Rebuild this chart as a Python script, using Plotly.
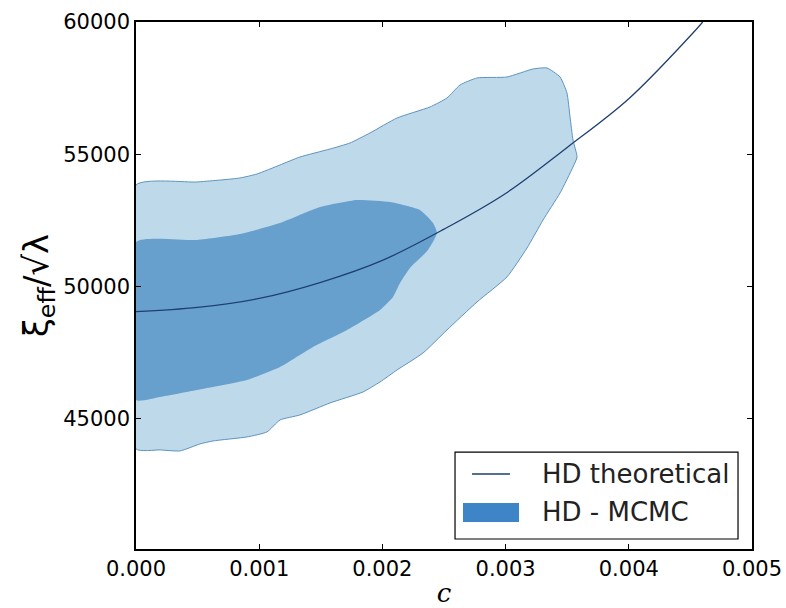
import plotly.graph_objects as go

# Theoretical HD curve
theory_c = [0.0, 0.0005, 0.001, 0.0015, 0.002, 0.0025, 0.003, 0.0035, 0.004, 0.0045, 0.0046]
theory_xi = [49050, 49210, 49550, 50160, 50990, 52170, 53520, 55260, 57100, 59480, 60000]

# Outer (2-sigma) MCMC contour
outer_c = [0.0, 0.000495, 0.000844, 0.000982, 0.001169, 0.001331, 0.001575, 0.001737, 0.001899,
           0.002119, 0.002386, 0.002524, 0.002630, 0.002768, 0.003011, 0.003222, 0.003336, 0.003442,
           0.003498, 0.003523, 0.003547, 0.003580, 0.003547, 0.003442, 0.003304, 0.003174, 0.003011,
           0.002768, 0.002524, 0.002330, 0.002119, 0.001981, 0.001843, 0.001575, 0.001331, 0.001169,
           0.001063, 0.000901, 0.000625, 0.000519, 0.000357, 0.000195, 0.0, 0.0]
outer_xi = [53840, 53953, 54104, 54255, 54596, 54898, 55200, 55427, 55805,
            56372, 56788, 57128, 57619, 57884, 57921, 58224, 58262, 57921,
            57317, 56410, 55540, 54898, 54520, 53537, 52517, 51459, 50363,
            49418, 48360, 47491, 46848, 46395, 46017, 45601, 45147, 44958,
            44505, 44316, 44165, 44051, 43787, 43825, 43863, 53840]

# Inner (1-sigma) MCMC contour
inner_c = [0.0, 0.000495, 0.000844, 0.001169, 0.001494, 0.001794, 0.002062, 0.002305, 0.002411,
           0.002443, 0.002370, 0.002224, 0.002143, 0.002086, 0.001981, 0.001713, 0.001437, 0.001169,
           0.000901, 0.000495, 0.000195, 0.0, 0.0]
inner_xi = [51686, 51761, 51988, 52404, 53008, 53273, 53197, 52895, 52404,
            52026, 51383, 50703, 50136, 49607, 49116, 48360, 47717, 46961,
            46470, 46092, 45828, 45714, 51686]

x_ticks = [0.0, 0.001, 0.002, 0.003, 0.004, 0.005]
y_ticks = [45000, 50000, 55000, 60000]
legend_labels = ["HD theoretical", "HD - MCMC"]

LINE_COL = "#1d3f70"
PATCH_COL = "#3d85c6"

fig = go.Figure()
fig.add_trace(go.Scatter(x=outer_c, y=outer_xi, mode="lines", fill="toself",
                         fillcolor="#bedaea", line=dict(color="#5f93c0", width=1, shape="spline", smoothing=0.5),
                         showlegend=False, hoverinfo="skip", name="HD - MCMC (2σ)"))
fig.add_trace(go.Scatter(x=inner_c, y=inner_xi, mode="lines", fill="toself",
                         fillcolor="#68a0cd", line=dict(color="rgba(0,0,0,0)", width=0, shape="spline", smoothing=0.5),
                         showlegend=False, hoverinfo="skip", name="HD - MCMC (1σ)"))
fig.add_trace(go.Scatter(x=theory_c, y=theory_xi, mode="lines", name=legend_labels[0],
                         line=dict(color=LINE_COL, width=1.3, shape="spline"), showlegend=False))

axis_common = dict(showline=True, linecolor="black", linewidth=1.5, mirror="allticks",
                   ticks="inside", ticklen=5, tickcolor="black", showgrid=False, zeroline=False,
                   automargin=False,
                   tickfont=dict(family="DejaVu Sans", size=21, color="black"))

fig.update_xaxes(range=[0, 0.005], tickvals=x_ticks, tickformat=".3f",
                 title=dict(text="<i>c</i>", font=dict(family="DejaVu Serif", size=26, color="black"), standoff=12),
                 **axis_common)
fig.update_yaxes(range=[40080, 60000], tickvals=y_ticks, tickformat="d",
                 title=dict(text="ξ<sub>eff</sub>/√λ", font=dict(family="DejaVu Sans", size=34, color="black"), standoff=4),
                 **axis_common)

# Custom legend box (matplotlib-style)
shapes = [
    dict(type="rect", xref="paper", yref="paper", x0=0.5179, x1=0.9773, y0=0.019, y1=0.184,
         line=dict(color="black", width=1.2), fillcolor="white", layer="above"),
    dict(type="line", xref="paper", yref="paper", x0=0.5455, x1=0.6071, y0=0.1423, y1=0.1423,
         line=dict(color=LINE_COL, width=1.3), layer="above"),
    dict(type="rect", xref="paper", yref="paper", x0=0.5308, x1=0.6218, y0=0.0512, y1=0.0873,
         line=dict(width=0), fillcolor=PATCH_COL, layer="above"),
]
annotations = [
    dict(text=legend_labels[0], xref="paper", yref="paper", x=0.6558, y=0.1423, xanchor="left", yanchor="middle",
         showarrow=False, font=dict(family="DejaVu Sans", size=26, color="#222")),
    dict(text=legend_labels[1], xref="paper", yref="paper", x=0.6558, y=0.0702, xanchor="left", yanchor="middle",
         showarrow=False, font=dict(family="DejaVu Sans", size=26, color="#222")),
]

fig.update_layout(width=786, height=608, margin=dict(l=136, r=34, t=22, b=59),
                  plot_bgcolor="white", paper_bgcolor="white", showlegend=False,
                  shapes=shapes, annotations=annotations)

fig.write_html("out.html", config={"displayModeBar": False},
               post_script="document.body.style.margin='0';document.body.style.overflow='hidden';")
